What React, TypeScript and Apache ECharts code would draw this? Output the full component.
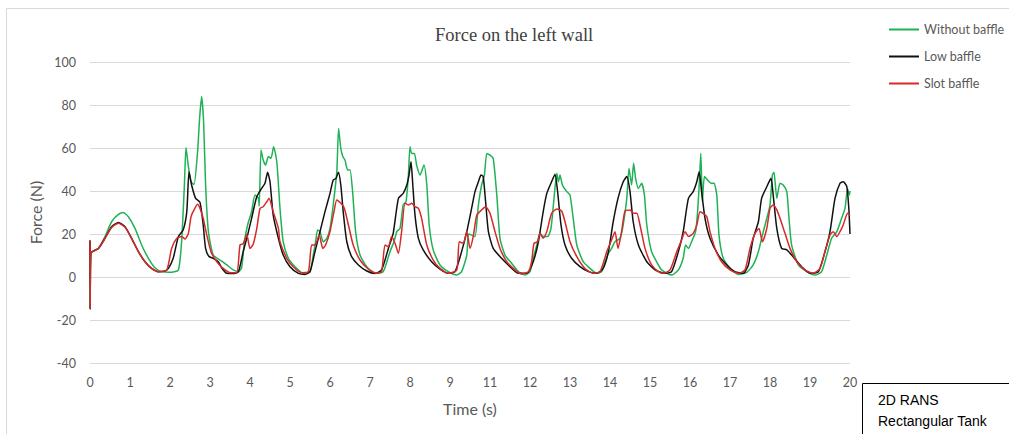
import { useEffect, useRef } from "react";
import * as echarts from "echarts";

const xTickLabels = ["0", "1", "2", "3", "4", "5", "6", "7", "8", "9", "11", "12", "13", "14", "15", "16", "17", "18", "19", "20"];
const seriesNames = ["Without baffle", "Low baffle", "Slot baffle"];

const withoutBaffle: number[][] = [
  [0, 17], [0.005, -15], [0.02, 11], [0.21, 13.3], [0.375, 18.8], [0.54, 25.7], [0.71, 29.1], [0.83, 30], [0.96, 28], [1.125, 22.6], [1.29, 14.9], [1.46, 8.7], [1.625, 4.3], [1.79, 2.5], [2.04, 2.2], [2.21, 3.3],
  [2.29, 16.4], [2.36, 42.8], [2.4, 60.2], [2.46, 51.3], [2.525, 44.3], [2.6, 43.1], [2.69, 58.3], [2.74, 73.8], [2.79, 83.9], [2.84, 72.2], [2.89, 42.8], [2.96, 21.1], [3.08, 10.2], [3.25, 7.9], [3.42, 5.6], [3.58, 3.3], [3.71, 2.5],
  [3.79, 4.3], [3.86, 16.4], [3.94, 24.2], [4.04, 30.4], [4.125, 38.1], [4.21, 36.6], [4.23, 33], [4.275, 59.1], [4.33, 54.4], [4.39, 52.1], [4.46, 56], [4.525, 55.2], [4.59, 60.6], [4.67, 53.6], [4.75, 31.9], [4.83, 16.4], [4.96, 8.7], [5.125, 4.8], [5.33, 1.7], [5.5, 2.5],
  [5.58, 10.2], [5.64, 16.4], [5.69, 21.9], [5.75, 21.1], [5.83, 16.4], [5.92, 18], [6.0, 22.6], [6.08, 33.5], [6.17, 49], [6.215, 69.1], [6.27, 59.8], [6.32, 56], [6.375, 54.4], [6.44, 49.8], [6.5, 49.8], [6.565, 39.7], [6.64, 21.1], [6.75, 10.2], [6.92, 4.8], [7.125, 1.7], [7.33, 2.5],
  [7.5, 11.8], [7.6, 16.4], [7.67, 21.1], [7.75, 22.6], [7.83, 33.5], [7.9, 35], [7.96, 47.4], [8.0, 60.6], [8.04, 57.5], [8.11, 57.5], [8.165, 52.1], [8.25, 47.4], [8.35, 52.1], [8.42, 42.8], [8.48, 24.2], [8.58, 12.6], [8.75, 5.6], [8.96, 2.5], [9.17, 0.9], [9.29, 2.5],
  [9.42, 10.2], [9.46, 20], [9.54, 19.5], [9.625, 18.8], [9.71, 33.5], [9.79, 42.8], [9.86, 47.4], [9.92, 57.5], [10.0, 56.7], [10.08, 55.2], [10.17, 38.1], [10.25, 18], [10.375, 10.2], [10.54, 6.4], [10.71, 2.5], [10.875, 0.9], [11.0, 2.5],
  [11.08, 8.7], [11.17, 14.9], [11.25, 20.3], [11.33, 18.8], [11.44, 18.8], [11.525, 22.6], [11.6, 36.6], [11.67, 48.2], [11.71, 44.3], [11.75, 47.4], [11.81, 42.8], [11.92, 39.7], [12.0, 38.1], [12.08, 27.3], [12.17, 14.9], [12.33, 7.1], [12.5, 4], [12.67, 1.7], [12.79, 2.5],
  [12.875, 7.1], [12.96, 11], [13.04, 13.3], [13.125, 16.4], [13.25, 18], [13.33, 24.2], [13.42, 36.6], [13.475, 50.5], [13.54, 42.8], [13.59, 52.9], [13.64, 45.9], [13.71, 41.2], [13.79, 43.6], [13.86, 38.1], [13.92, 24.2], [14.04, 11.8], [14.21, 5.6], [14.29, 3.3], [14.54, 0.9], [14.71, 3.3],
  [14.83, 8.7], [14.89, 14.9], [14.96, 13.3], [15.04, 16.4], [15.14, 21.1], [15.19, 30.4], [15.23, 42.8], [15.27, 57.5], [15.31, 35], [15.36, 46.7], [15.44, 45.1], [15.525, 43.6], [15.6, 43.6], [15.67, 38.1], [15.725, 19.5], [15.83, 8.7], [16.0, 4], [16.21, 1.2], [16.42, 2.2],
  [16.58, 5.6], [16.71, 11.8], [16.81, 19.5], [16.92, 27.3], [17.0, 33.5], [17.06, 47.4], [17.1, 48.7], [17.17, 36.6], [17.25, 43.6], [17.33, 42.8], [17.42, 39.7], [17.475, 27.3], [17.54, 14.9], [17.71, 5.6], [17.92, 2.5], [18.125, 0.9], [18.29, 2.5],
  [18.42, 10.2], [18.54, 18], [18.67, 21.1], [18.79, 27.3], [18.875, 31.9], [18.94, 41.2], [18.985, 38.1], [19, 40],
];

const lowBaffle: number[][] = [
  [0, 17], [0.005, -15], [0.02, 11], [0.21, 13.3], [0.375, 18], [0.54, 23.4], [0.71, 25.3], [0.875, 23.4], [1.04, 18], [1.21, 11.8], [1.375, 7.1], [1.54, 4], [1.71, 2.5], [1.875, 2.8],
  [1.96, 4], [2.08, 8.7], [2.21, 18.8], [2.33, 21.9], [2.42, 30.4], [2.475, 49], [2.54, 42.8], [2.64, 36.6], [2.75, 34.7], [2.83, 24.2], [2.89, 13.3], [2.975, 9.5], [3.08, 8.7], [3.21, 7.1], [3.29, 4.3], [3.42, 1.7], [3.58, 1.6], [3.71, 2.5],
  [3.83, 11.8], [3.94, 19.5], [4.04, 27.3], [4.17, 37.4], [4.29, 41.2], [4.375, 43.6], [4.44, 48.7], [4.5, 44.3], [4.58, 28.8], [4.71, 18], [4.83, 10.2], [5.0, 4.8], [5.21, 1.7], [5.375, 1.2], [5.5, 2.5],
  [5.625, 11.8], [5.75, 21.1], [5.875, 30.4], [6.0, 38.9], [6.08, 45.1], [6.15, 45.9], [6.21, 48.7], [6.27, 42.8], [6.33, 30.4], [6.42, 16.4], [6.54, 9.5], [6.71, 5.6], [6.92, 2.8], [7.125, 1.6], [7.29, 3.3],
  [7.46, 13.3], [7.58, 20.3], [7.71, 36.6], [7.83, 38.9], [7.92, 42.8], [7.975, 47.4], [8.025, 53.6], [8.07, 42.8], [8.125, 28.8], [8.21, 18], [8.33, 12.6], [8.54, 7.1], [8.75, 3.7], [8.96, 1.7], [9.125, 2.5],
  [9.29, 11.8], [9.42, 21.1], [9.54, 31.9], [9.625, 39.7], [9.71, 44.3], [9.775, 47.4], [9.83, 46.7], [9.89, 35], [9.96, 21.1], [10.08, 13.3], [10.29, 8.7], [10.5, 4.8], [10.71, 1.7], [10.92, 1.7],
  [11.08, 7.1], [11.21, 16.4], [11.33, 30.4], [11.42, 38.9], [11.54, 44.3], [11.625, 47.8], [11.69, 39.7], [11.775, 24.2], [11.875, 14.9], [12.04, 8.7], [12.25, 4.8], [12.46, 2.5], [12.67, 1.7],
  [12.83, 4], [12.96, 11.8], [13.08, 25.7], [13.2, 36.6], [13.33, 44.3], [13.42, 46.7], [13.5, 39.7], [13.58, 25.7], [13.71, 14.9], [13.92, 7.1], [14.125, 3.3], [14.375, 1.7], [14.54, 2.5],
  [14.71, 11.8], [14.83, 21.1], [14.96, 36.6], [15.08, 39.7], [15.17, 44.3], [15.23, 49], [15.29, 39.7], [15.375, 27.3], [15.5, 18], [15.71, 10.2], [15.92, 5.6], [16.125, 2.5], [16.33, 1.7],
  [16.46, 5.6], [16.58, 18], [16.71, 25.7], [16.79, 36.6], [16.92, 42], [17.025, 45.9], [17.08, 38.1], [17.17, 22.6], [17.29, 13.3], [17.42, 12.6], [17.54, 10.2], [17.79, 4.8], [18.0, 1.7], [18.21, 2.5],
  [18.375, 11.8], [18.5, 21.1], [18.625, 36.6], [18.75, 43.6], [18.83, 44.3], [18.92, 42], [18.97, 32], [19, 20],
];

const slotBaffle: number[][] = [
  [0, 17], [0.005, -15], [0.02, 11], [0.21, 13.3], [0.375, 18], [0.54, 23], [0.71, 25], [0.875, 23.2], [1.04, 18], [1.21, 11.8], [1.375, 7.1], [1.54, 4], [1.71, 2.5],
  [1.92, 3.3], [2.04, 13.3], [2.17, 18], [2.29, 18.8], [2.375, 17.7], [2.46, 20.3], [2.525, 28], [2.6, 31.2], [2.69, 33.8], [2.75, 31.9], [2.83, 27.3], [2.92, 19.5], [3.025, 11.8], [3.17, 7.1], [3.33, 4], [3.5, 2], [3.67, 2],
  [3.75, 14.9], [3.83, 15.5], [3.92, 19.8], [4.0, 13.3], [4.08, 15.2], [4.17, 22.6], [4.25, 31.9], [4.33, 32.7], [4.42, 35], [4.475, 36.6], [4.58, 30.4], [4.71, 22.6], [4.75, 16.4], [4.92, 8.7], [5.08, 4.8], [5.29, 2], [5.46, 2.5],
  [5.54, 14.9], [5.625, 14.9], [5.73, 19.5], [5.82, 13.3], [5.89, 14.9], [6.0, 21.1], [6.1, 30.4], [6.17, 35.8], [6.275, 34.3], [6.36, 31.9], [6.46, 24.2], [6.58, 14.9], [6.75, 7.9], [6.96, 3.6], [7.17, 1.7], [7.29, 2.5],
  [7.375, 14.9], [7.46, 14.1], [7.54, 18.8], [7.625, 15.7], [7.71, 11], [7.79, 21.1], [7.875, 34.3], [7.96, 33.5], [8.04, 34.3], [8.125, 32.7], [8.21, 31.9], [8.29, 27.3], [8.42, 14.9], [8.58, 7.9], [8.75, 4], [8.96, 1.7], [9.17, 3.3],
  [9.23, 16.4], [9.33, 15.7], [9.42, 21.1], [9.5, 13.3], [9.58, 18.8], [9.67, 28.8], [9.79, 31.2], [9.89, 32.7], [10.0, 29.6], [10.125, 21.1], [10.25, 13.3], [10.42, 7.1], [10.625, 3.3], [10.79, 1.4], [10.96, 2.5],
  [11.04, 7.1], [11.1, 15.7], [11.19, 16.4], [11.25, 20.3], [11.33, 18], [11.42, 21.1], [11.54, 29.6], [11.67, 31.6], [11.79, 30.7], [11.875, 25.7], [12.0, 16.4], [12.17, 9.5], [12.375, 4], [12.58, 1.7], [12.75, 2.5],
  [12.92, 11.8], [13.04, 17.2], [13.125, 21.1], [13.2, 13.3], [13.29, 21.1], [13.375, 30.7], [13.5, 31.2], [13.58, 29.6], [13.67, 29.6], [13.75, 24.2], [13.875, 13.3], [14.04, 5.6], [14.21, 2.5], [14.33, 1.7], [14.5, 3.3],
  [14.67, 11.8], [14.79, 17.2], [14.875, 21.1], [14.96, 18.8], [15.08, 20.3], [15.17, 24.2], [15.25, 30.4], [15.33, 29.6], [15.42, 28], [15.5, 21.1], [15.625, 13.3], [15.79, 7.1], [16.0, 3.3], [16.21, 1.7], [16.375, 3.3],
  [16.5, 13.3], [16.625, 20.3], [16.725, 22.6], [16.81, 16.4], [16.92, 22.6], [17.0, 31.9], [17.08, 33.5], [17.17, 31.2], [17.25, 27.3], [17.375, 20.3], [17.5, 13.3], [17.67, 7.1], [17.875, 3.3], [18.08, 1.7], [18.25, 4],
  [18.375, 11.8], [18.5, 19.5], [18.58, 21.1], [18.67, 18.8], [18.75, 21.1], [18.83, 24.2], [18.94, 29.6], [19, 28.5],
];

const seriesData = [withoutBaffle, lowBaffle, slotBaffle];
const seriesColors = ["#1fb255", "#111111", "#d42a2a"];

export default function App() {
  const ref = useRef<HTMLDivElement>(null);
  useEffect(() => {
    const chart = echarts.init(ref.current!, null, { renderer: "svg" });
    const sans = "Lato, 'Open Sans', sans-serif";
    chart.setOption({
      animation: false,
      backgroundColor: "#ffffff",
      title: {
        text: "Force on the left wall",
        left: 430,
        top: 20,
        textStyle: { fontFamily: "'Liberation Serif', serif", fontSize: 18.5, fontWeight: "normal", color: "#404040" },
      },
      legend: {
        orient: "vertical",
        left: 884,
        top: 18,
        icon: "rect",
        itemWidth: 30,
        itemHeight: 2,
        itemGap: 14,
        data: seriesNames,
        textStyle: { fontFamily: sans, fontSize: 12.5, color: "#595959" },
      },
      grid: { left: 90, right: 159, top: 62, bottom: 71 },
      xAxis: {
        type: "value",
        min: 0,
        max: 19,
        interval: 1,
        name: "Time (s)",
        nameLocation: "middle",
        nameGap: 37,
        nameTextStyle: { fontFamily: sans, fontSize: 16, color: "#595959" },
        axisLine: { show: false },
        axisTick: { show: false },
        splitLine: { show: false },
        axisLabel: {
          margin: 13,
          fontFamily: sans,
          fontSize: 12.5,
          color: "#595959",
          formatter: (v: number) => xTickLabels[Math.round(v)] ?? "",
        },
      },
      yAxis: {
        type: "value",
        min: -40,
        max: 100,
        interval: 20,
        name: "Force (N)",
        nameLocation: "middle",
        nameGap: 44,
        nameTextStyle: { fontFamily: sans, fontSize: 16, color: "#595959" },
        axisLine: { show: false },
        axisTick: { show: false },
        splitLine: { lineStyle: { color: "#d9d9d9", width: 1 } },
        axisLabel: { margin: 14, fontFamily: sans, fontSize: 12.5, color: "#595959" },
      },
      series: seriesNames.map((name, i) => ({
        name,
        type: "line",
        data: seriesData[i],
        symbol: "none",
        smooth: 0.2,
        lineStyle: { color: seriesColors[i], width: 1.5 },
        itemStyle: { color: seriesColors[i] },
      })),
      graphic: [
        {
          type: "rect",
          shape: { x: 6.5, y: 8.5, width: 1020, height: 440 },
          style: { fill: "none", stroke: "#d9d9d9", lineWidth: 1 },
          silent: true,
        },
        {
          type: "rect",
          shape: { x: 862.5, y: 383.5, width: 200, height: 100 },
          style: { fill: "#ffffff", stroke: "#000000", lineWidth: 1 },
          z: 10,
        },
        {
          type: "text",
          x: 878,
          y: 400,
          z: 11,
          style: { text: "2D RANS", fontFamily: "'Liberation Sans', Arial, sans-serif", fontSize: 14, fill: "#000000", verticalAlign: "middle" },
        },
        {
          type: "text",
          x: 878,
          y: 421,
          z: 11,
          style: { text: "Rectangular Tank", fontFamily: "'Liberation Sans', Arial, sans-serif", fontSize: 14, fill: "#000000", verticalAlign: "middle" },
        },
      ],
    });
    return () => chart.dispose();
  }, []);
  return (
    <div
      ref={ref}
      style={{ position: "fixed", left: 0, top: 0, width: 1009, height: 434, background: "#ffffff" }}
    />
  );
}
